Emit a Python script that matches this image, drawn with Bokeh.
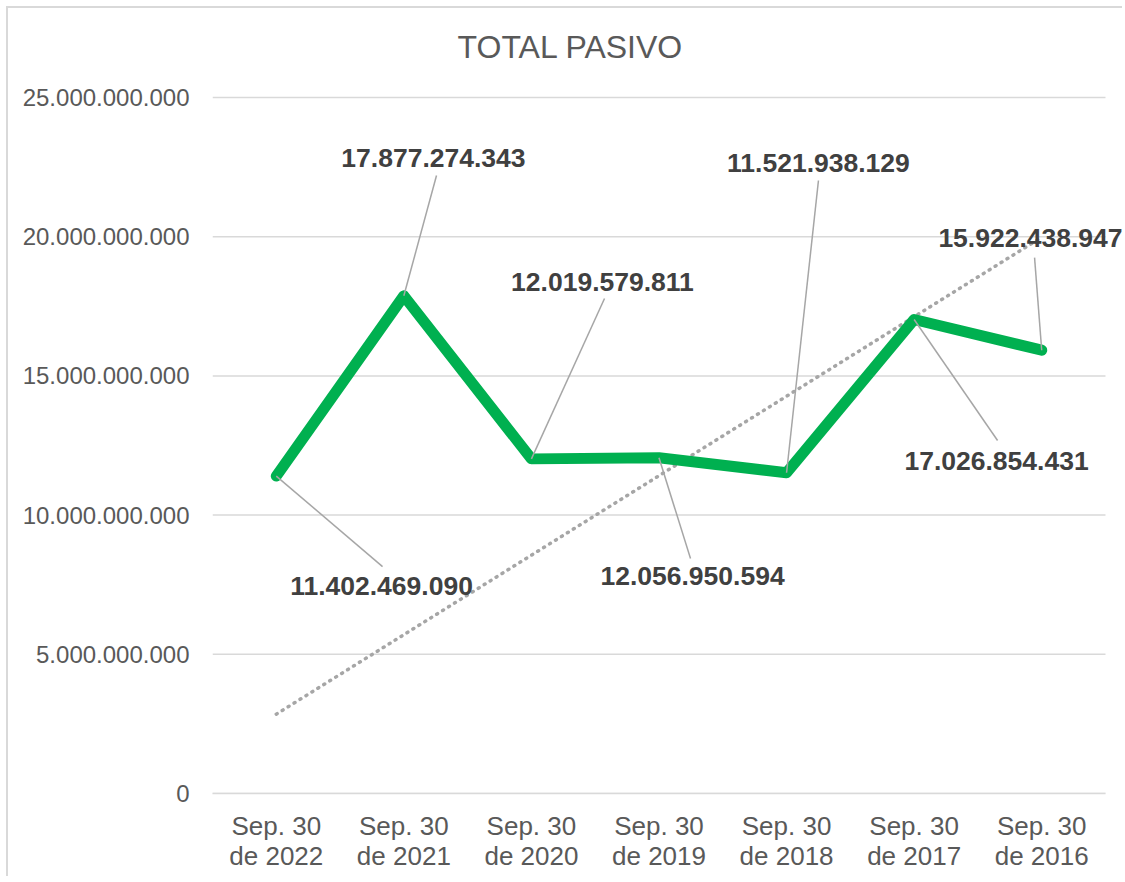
from bokeh.plotting import figure
from bokeh.models import Range1d, FixedTicker, ColumnDataSource
from bokeh.core.properties import value
from bokeh.embed import file_html
from bokeh.resources import INLINE

# ---- data ----
categories = ["Sep. 30\nde 2022", "Sep. 30\nde 2021", "Sep. 30\nde 2020", "Sep. 30\nde 2019",
              "Sep. 30\nde 2018", "Sep. 30\nde 2017", "Sep. 30\nde 2016"]
total_pasivo = [11402469090, 17877274343, 12019579811, 12056950594,
                11521938129, 17026854431, 15922438947]
trend_values = [2.85e9, 19.98e9]          # dotted trend line, first and last category
y_ticks = [0, 5e9, 10e9, 15e9, 20e9, 25e9]
title_text = "TOTAL PASIVO"

# ---- label layout (text centres and leader-line ends, in axis units) ----
label_x = [0.825, 1.232, 2.557, 3.263, 4.250, 5.646, 5.912]
label_y = [7.47e9, 22.84e9, 18.39e9, 7.83e9, 22.63e9, 11.93e9, 19.97e9]
leader_x = [0.833, 1.256, 2.573, 3.247, 4.250, 5.654, 5.944]
leader_y = [8.15e9, 22.20e9, 17.78e9, 8.44e9, 22.02e9, 12.68e9, 19.25e9]
title_pos = (2.306, 26.8e9)

FONT = "Liberation Sans"
x_idx = list(range(len(categories)))
n = len(categories)

def fmt(v):
    return f"{int(v):,}".replace(",", ".")

W, H = 1116, 870
LEFT, BOTTOM = 204, 85
PX_PER_CAT = 127.57
PX_PER_UNIT_Y = 139.2 / 5e9
x_end = -0.5 + (W - LEFT) / PX_PER_CAT
y_end = (H - BOTTOM) / PX_PER_UNIT_Y

p = figure(width=W, height=H, output_backend="svg", toolbar_location=None,
           x_range=Range1d(-0.5, x_end), y_range=Range1d(0, y_end),
           min_border_left=LEFT, min_border_right=0, min_border_top=0, min_border_bottom=BOTTOM)
p.styles = {"margin-top": "6px", "margin-left": "6px",
            "border-top": "2px solid #D9D9D9", "border-left": "2px solid #D9D9D9"}
p.outline_line_color = None
p.background_fill_color = "white"

# axes
p.xaxis.ticker = FixedTicker(ticks=x_idx)
p.xaxis.major_label_overrides = {i: c for i, c in zip(x_idx, categories)}
p.xaxis.bounds = (-0.5, n - 0.5)
p.yaxis.ticker = FixedTicker(ticks=y_ticks)
p.yaxis.major_label_overrides = {v: fmt(v) for v in y_ticks}
for ax in (p.xaxis[0], p.yaxis[0]):
    ax.major_tick_line_color = None
    ax.minor_tick_line_color = None
    ax.major_label_text_font = FONT
    ax.major_label_text_color = "#595959"
p.yaxis.axis_line_color = None
p.yaxis.major_label_text_font_size = "24px"
p.yaxis.major_label_standoff = 17
p.xaxis.axis_line_color = "#D9D9D9"
p.xaxis.axis_line_width = 1.5
p.xaxis.major_label_text_font_size = "26px"
p.xaxis.major_label_text_line_height = 1.0
p.xaxis.major_label_standoff = 11
p.xgrid.grid_line_color = None
p.ygrid.grid_line_color = None

# horizontal gridlines over the category span
p.segment(x0=[-0.5] * len(y_ticks), x1=[n - 0.5] * len(y_ticks), y0=y_ticks, y1=y_ticks,
          line_color="#D9D9D9", line_width=1.5)

# title
p.text(x=[title_pos[0]], y=[title_pos[1]], text=[title_text], text_font=value(FONT),
       text_font_size="32px", text_color="#595959",
       text_align="center", text_baseline="middle")

# trend line
p.line([x_idx[0], x_idx[-1]], trend_values, line_color="#A6A6A6", line_width=3.5,
       line_dash="1 6", line_cap="round")

# main series
p.line(x_idx, total_pasivo, line_color="#00B050", line_width=11,
       line_join="round", line_cap="round")

# leader lines
p.segment(x0=x_idx, y0=total_pasivo, x1=leader_x, y1=leader_y,
          line_color="#A6A6A6", line_width=1.5)

# data labels
src = ColumnDataSource(dict(x=label_x, y=label_y, t=[fmt(v) for v in total_pasivo]))
p.text(x="x", y="y", text="t", source=src, text_font=value(FONT),
       text_font_size="26.5px", text_font_style="bold", text_color="#404040",
       text_align="center", text_baseline="middle")

open("out.html", "w").write(file_html(p, INLINE))
